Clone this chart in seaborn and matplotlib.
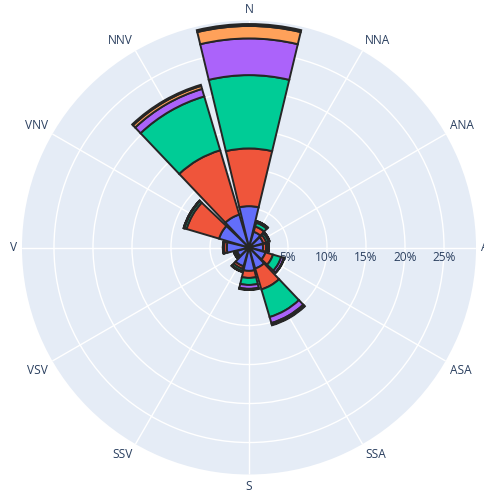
import numpy as np
import matplotlib
matplotlib.use("Agg")
import matplotlib.pyplot as plt
import seaborn as sns

# Wind directions (12 sectors, clockwise from north)
directions = ["N", "NNA", "ANA", "A", "ASA", "SSA", "S", "SSV", "VSV", "V", "VNV", "NNV"]

# Frequency (%) per speed class for each direction
speed_1 = [5.3, 2.1, 1.9, 1.8, 2.2, 2.8, 3.0, 2.5, 1.6, 2.85, 4.0, 4.4]
speed_2 = [7.4, 0.7, 0.4, 0.4, 1.0, 2.8, 0.9, 0.35, 0.2, 0.35, 4.35, 8.6]
speed_3 = [9.4, 0.5, 0.3, 0.2, 1.1, 3.7, 0.9, 0.3, 0.15, 0.1, 0.3, 7.2]
speed_4 = [4.7, 0.15, 0.1, 0.1, 0.35, 0.8, 0.5, 0.05, 0.05, 0.03, 0.05, 1.0]
speed_5 = [1.6, 0.05, 0.05, 0.05, 0.05, 0.2, 0.1, 0.03, 0.02, 0.02, 0.03, 0.4]
speed_6 = [0.25, 0.03, 0.0, 0.02, 0.02, 0.1, 0.05, 0.02, 0.0, 0.0, 0.02, 0.15]

radial_ticks = [5, 10, 15, 20, 25]

sns.set_style("white")
plt.rcParams["font.family"] = ["Open Sans", "DejaVu Sans"]

palette = sns.color_palette(["#636efa", "#EF553B", "#00cc96", "#ab63fa", "#FFA15A", "#19d3f3"])
series = [speed_1, speed_2, speed_3, speed_4, speed_5, speed_6]

W, H = 484, 493
fig = plt.figure(figsize=(W / 100, H / 100), dpi=100)
cx, cy, R = 249, 247.5, 227
ax = fig.add_axes([(cx - R) / W, (H - cy - R) / H, 2 * R / W, 2 * R / H], projection="polar")
ax.set_theta_zero_location("N")
ax.set_theta_direction(-1)
ax.set_facecolor("#E5ECF6")
ax.spines["polar"].set_visible(False)

theta = np.deg2rad(np.arange(len(directions)) * 360 / len(directions))
width = np.deg2rad(360 / len(directions) * 0.9)

bottom = np.zeros(len(directions))
for vals, col in zip(series, palette):
    v = np.asarray(vals, dtype=float)
    ax.bar(theta, v, width=width, bottom=bottom, color=col, edgecolor="#262626",
           linewidth=1.4, align="center", zorder=3)
    bottom += v

rmax = 29.1
ax.set_ylim(0, rmax)
ax.set_yticks(radial_ticks)
ax.set_yticklabels([])
ax.set_xticks(theta)
ax.set_xticklabels([])
ax.grid(True, color="white", linewidth=1.0)
ax.set_axisbelow(True)

# Direction labels just outside the rim, anchored by their side facing the centre
gap = 5
for t, name in zip(theta, directions):
    s, c = np.sin(t), np.cos(t)
    ha = "left" if s > 0.1 else ("right" if s < -0.1 else "center")
    va = "bottom" if c > 0.1 else ("top" if c < -0.1 else "center")
    ax.annotate(name, xy=(t, rmax), xytext=(gap * s, gap * c), textcoords="offset pixels",
                ha=ha, va=va, color="#2a3f5f", fontsize=8.6, annotation_clip=False)

# Radial tick labels below the east axis
for r in radial_ticks:
    ax.annotate(f"{r}%", xy=(np.pi / 2, r), xytext=(0, -9.5), textcoords="offset pixels",
                ha="center", va="center", color="#2a3f5f", fontsize=8.6, zorder=2,
                annotation_clip=False)

fig.savefig("out.png", dpi=100, facecolor="white")
